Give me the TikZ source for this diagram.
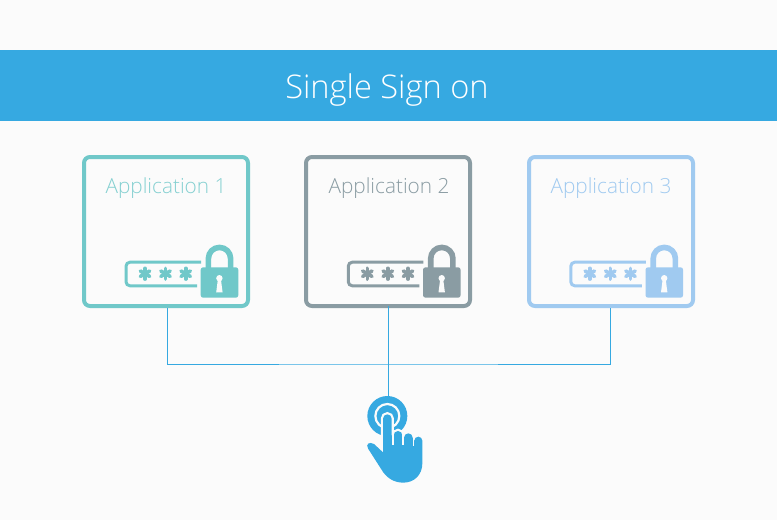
\documentclass[tikz,border=0pt]{standalone}
\usepackage{fontspec}
\setmainfont{Open Sans Light}
\definecolor{bandblue}{HTML}{36A9E1}
\definecolor{bgc}{HTML}{FBFBFB}
\definecolor{tealc}{HTML}{70C8C9}
\definecolor{grayc}{HTML}{8A9CA3}
\definecolor{paleblue}{HTML}{A0CAF0}
\tikzset{
  appbox/.style={draw=#1,line width=4pt,rounded corners=6pt,minimum width=164pt,minimum height=149pt,inner sep=0pt,outer sep=0pt,fill=bgc,anchor=north west},
  applabel/.style={inner sep=0pt,font=\fontsize{20.8}{24}\selectfont},
  wire/.style={draw=bandblue,line width=0.9pt},
}
\newcommand{\pwlock}[2]{%
  \begin{scope}[shift={(#1,0)}]
    \draw[#2,line width=3pt,rounded corners=4pt] (201,262.2) -- (126,262.2) -- (126,285.8) -- (197,285.8);
    \foreach \sx in {145,165.5,185.7}{
      \foreach \sa in {90,30,-30}{
        \draw[#2,line width=3.6pt,line cap=round] ([shift={(\sa:5.4)}]\sx,273.7) -- ([shift={(\sa+180:5.4)}]\sx,273.7);
      }
    }
    \draw[#2,line width=5.6pt] (208.4,270) -- (208.4,258.5) arc[start angle=180,end angle=360,radius=11.1] -- (230.6,270);
    \fill[#2,rounded corners=2.5pt] (200.7,267.3) rectangle (238.3,297.7);
    \fill[bgc] (219.4,278.2) circle (3.2);
    \fill[bgc] (217.8,280) -- (221,280) -- (222.6,292.3) -- (216.2,292.3) -- cycle;
  \end{scope}%
}
\begin{document}
\begin{tikzpicture}[x=1pt,y=-1pt]
\useasboundingbox (0,0) rectangle (777,520);
\fill[bgc] (0,0) rectangle (777,520);
\fill[bandblue] (0,50) rectangle (777,121);
\node[text=white,inner sep=0pt,font=\fontsize{32.6}{40}\selectfont] (title) at (387,90) {Single Sign on};

\node[appbox=tealc] (app1) at (84,157) {};
\node[appbox=grayc] (app2) at (306,157) {};
\node[appbox=paleblue] (app3) at (529,157) {};

\node[applabel,text=tealc!85!white] (lab1) at (166,188.5) {Application 1};
\node[applabel,text=grayc] (lab2) at (389,188.5) {Application 2};
\node[applabel,text=paleblue] (lab3) at (611,188.5) {Application 3};

\pwlock{0}{tealc}
\pwlock{222.3}{grayc}
\pwlock{444.8}{paleblue}

\coordinate (junction) at (388,364);
\coordinate (handtop) at (388,397);
\coordinate (drop1) at (167,308);
\coordinate (drop3) at (610.5,308);
\draw[wire] (drop1) |- (junction) -| (drop3);
\draw[wire] (app2.south) -- (handtop);

\begin{scope}[shift={(340,380)},scale=1/3]
  \fill[bandblue] (142,108) circle (60);
  \draw[bgc,line width=2.2pt] (142,108) circle (36);
  \path[fill=bandblue,preaction={draw=bgc,line width=4.4pt}]
    (129,217) -- (129,116) arc[start angle=180,end angle=360,radius=13] -- (155,166)
    -- (161,166) arc[start angle=180,end angle=360,radius=13]
    -- (192,173) arc[start angle=180,end angle=360,radius=13]
    -- (223,182) arc[start angle=180,end angle=360,radius=12] -- (247,250)
    .. controls (247,285) and (222,308) .. (190,308)
    .. controls (160,308) and (138,292) .. (124,268)
    -- (85,207)
    .. controls (75,192) and (88,184) .. (102,192)
    -- cycle;
  \draw[bgc,line width=1.5pt] (158.5,150) -- (158.5,195);
  \draw[bgc,line width=1.5pt] (189.5,150) -- (189.5,195);
  \draw[bgc,line width=1.5pt] (220.5,160) -- (220.5,197);
\end{scope}
\end{tikzpicture}
\end{document}
